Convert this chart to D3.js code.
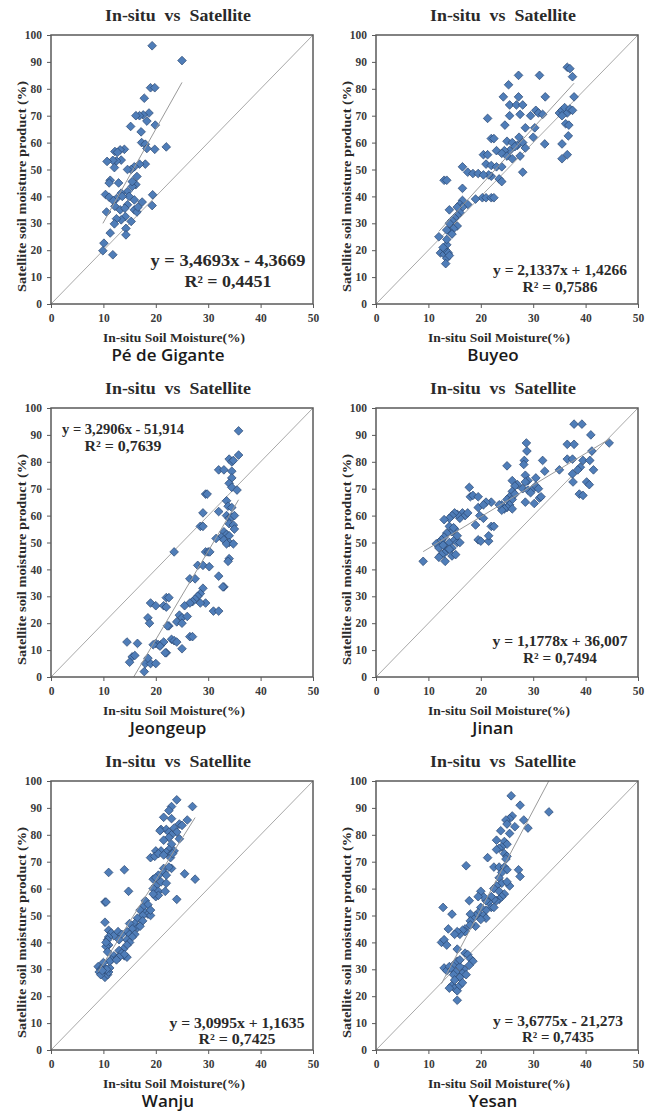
<!DOCTYPE html>
<html><head><meta charset="utf-8">
<script src="https://cdn.jsdelivr.net/npm/d3@7"></script>
<style>
body{margin:0;background:#fff;}
svg{display:block;}
</style></head>
<body>
<svg id="chart" width="654" height="1111"></svg>
<script>
// ---------------- DATA ----------------
const stations = ["Pé de Gigante","Buyeo","Jeongeup","Jinan","Wanju","Yesan"];
const slopes = [3.4693, 2.1337, 3.2906, 1.1778, 3.0995, 3.6775];
const intercepts = [-4.3669, 1.4266, -51.914, 36.007, 1.1635, -21.273];
const eqLabels = ["y = 3,4693x - 4,3669","y = 2,1337x + 1,4266","y = 3,2906x - 51,914","y = 1,1778x + 36,007","y = 3,0995x + 1,1635","y = 3,6775x - 21,273"];
const r2Labels = ["R² = 0,4451","R² = 0,7586","R² = 0,7639","R² = 0,7494","R² = 0,7425","R² = 0,7435"];
const xTicks = [0,10,20,30,40,50];
const yTicks = [0,10,20,30,40,50,60,70,80,90,100];

const pdgPoints = [[19.3,96],[25,90.5],[19,80.4],[19.8,80.4],[17.8,76.5],[18.7,71],[17.6,70.3],[16.9,70],[16.2,70],
[19.9,66.5],[15.2,66],[17.2,64],[18.3,68],[17.3,60],[18,59.4],[22,58.4],[19.8,57.5],[18.3,57.8],[14,57.5],[13.2,57.3],
[12.2,56.7],[12.7,56.4],[13.4,53.5],[12.5,53.2],[11.8,53.4],[10.7,53],[18,52],[16.9,52],[15.9,51],[15.3,50],[14.6,50],
[12.1,50.7],[11.3,46],[12.9,45],[11.1,45],[16.4,47.4],[16.2,44.4],[15.5,43.7],[14.6,41.8],[13.4,41.2],[12.5,39.2],
[10.4,40.7],[11.1,39.7],[11.9,38.4],[19.4,40.6],[17.4,37.9],[15.9,38.7],[14.6,36.9],[19.3,36.6],[10.6,34.2],[12.2,36.3],
[13.2,35],[14.1,35.6],[15.9,35],[16.4,34.2],[15.3,30.7],[14.2,32.5],[13.4,31.3],[12.5,31.7],[12.1,29.8],[14.3,28.1],
[14.3,25.7],[11.3,26.4],[10.1,22.6],[9.9,19.8],[11.8,18.3],[14.9,40],[13.6,40],[15.5,45.5],[16.6,36]];

const buyeoPoints = [[36.5,88],[37,87.5],[37.5,84.5],[27.2,85],[31.2,85],[25.3,81.5],[37.8,77],[32.3,77],[24.3,77],[27.2,77],
[25.5,74],[26.8,74],[28,74],[21.3,69],[24.6,66.5],[25.5,70],[27.5,70.5],[29.5,70],[30.5,72],[31,71],[31.8,70.5],[35,71],
[35.5,72],[36,73],[36.5,71],[37,72.5],[37.5,72],[35.5,70],[36.2,67],[36.8,66.5],[30.3,65.5],[28.5,65.5],[36.7,62.5],
[30,62],[27.3,62],[22,61.5],[22.5,61.5],[32.2,59.5],[35.5,59.5],[36.5,55.5],[35.5,54],[25,60.5],[26,60],[27,59],[28,60],
[28.5,58],[26.5,58.5],[25.5,57],[24.5,57],[23,57],[24,56],[25,55],[26,54],[27.5,55],[28,49],[20.5,55.5],[21.3,55.5],
[21,52],[22,51.5],[23,51],[24,51],[22,47.5],[21.5,48],[23.5,46.5],[24,45.5],[16.5,51],[17.5,49],[18.5,48.5],[19.5,48.5],
[20.5,48],[16.5,43],[20.3,39.5],[21,39.5],[22,39.5],[22.5,39.5],[19,39],[17.5,37],[16.5,38.5],[16,37],[16.5,36],[15.5,36],
[16,34],[15.5,33],[15,32],[14.5,31],[15.5,29],[14.8,28],[14,27],[14.5,26],[14,30],[13.5,27.5],[14,35],[13,46],[13.5,46],
[12,25],[12.3,19],[13,18.5],[13.3,20],[13.5,22],[13.5,17],[13.8,19],[14,18],[13.3,15],[12.8,21],[13.5,24]];

const jeongeupPoints = [[35.8,91.5],[35.8,82.5],[34,81],[34.5,80],[34.8,80.5],[32,77],[33,77],[34.5,76.5],[34.5,74],[34,72],
[34.5,70.5],[35.5,69.5],[29.5,68],[29.8,68],[33.5,65.5],[33.8,63.5],[34.5,63],[32,61.5],[29,61],[33.5,60],[34,59],
[34.5,59.5],[35,60],[34,57],[34.8,56.5],[35,55],[28.5,56],[29,56],[33,54],[33.5,53],[34,52.5],[32.5,52],[31.5,51.5],
[33,51],[34,50],[33.5,49.5],[34.8,49.5],[29.5,46.5],[30,46.5],[30.3,46.5],[23.5,46.5],[34,44],[33.8,43],[28,41.5],
[29,41.5],[30.2,41],[32,37.5],[26.5,36.5],[27.5,36.5],[33,33.5],[32.8,33.5],[29,33],[28.5,31],[28,30],[27.5,29],[27,28],
[26.5,27.5],[29.5,27.5],[28.5,27.5],[22,29.5],[22.5,29.5],[19,27.5],[20,26.5],[21.5,26.5],[22,26],[25.5,26.5],[31,24.5],
[32,24.5],[24.5,23],[25,22],[26,22.5],[24,20.5],[25,20],[22.5,19],[22.2,19],[18.5,22],[18.8,20],[23,14],[23.5,13.5],
[24,13],[26.5,15],[27,15],[25,10.5],[20,12.5],[20.5,12],[21,12],[21.5,13],[20.8,11.5],[19.5,12],[14.5,13],[16.5,12.5],
[15.5,7.5],[16,8],[15,5.5],[18,5],[19,5],[20,5],[18.5,7],[17.8,2],[22,9],[21.8,9]];

const jinanPoints = [[37.8,94],[39.3,94],[41,90],[44.5,87],[28.7,87],[36.5,86.5],[37.8,86.5],[28.8,84],[41.2,84],[36.5,81],
[37.5,81],[39.5,80.5],[40.8,80.5],[28.3,80.5],[31.8,80.5],[28.2,79],[25,78.5],[39,78],[38.5,77],[35,77],[41.5,77],
[32.2,76.5],[37.5,75.5],[28.5,75],[30.5,74],[40.2,72.5],[40.7,71.5],[37.6,72.5],[29,73],[28.5,72.5],[26,73],[27,71.5],
[26.5,71],[28,70],[29,69.5],[30,70],[30.5,71],[31,70],[29.5,68.5],[31.2,66.5],[31.5,67],[28.5,65],[30.2,64.5],[38.8,68],
[39.5,67.5],[26,69],[25.5,67],[25,66],[26,66],[26.5,68],[25.5,64],[25,63],[24,64],[24.5,62.5],[24,62],[23.5,64],[26,62.5],
[22,65],[21,65],[17.8,70.5],[18,67],[18.5,67.5],[19.5,67],[19.5,63],[20.5,64],[19.8,60],[20.5,59],[19,56.5],[22,56],
[22.5,56],[19.5,51],[20,50.5],[21.5,50.5],[21.5,52.5],[16.5,61],[17,60],[17.5,61],[16,59],[15.5,60.5],[15,61],[14.5,60],
[14,59],[13,58.5],[14,56],[15,55],[14.5,54],[13.5,53.5],[13,52],[12.5,51],[12,50],[11.5,49.5],[12,48],[13,49],[14,50],
[15,51],[15.5,50],[14.5,48],[13.5,47],[13,46],[12.5,45.5],[12,44.5],[13.2,43],[14.5,45],[15.2,45.5],[14,47.5],[9,43],
[15.5,52.5],[16,50],[12.8,49],[14.8,55.5]];

const wanjuPoints = [[24,93],[23,90.5],[27,90.5],[22.5,89],[21.5,86.5],[23,86],[26,85.5],[24.5,84],[25,83.5],[23.5,82.5],
[21,82],[22,82],[20.8,81.5],[22.5,81],[24,81],[23,80],[22.5,79],[24.5,78.5],[21.5,78],[23,76.5],[22.5,74.5],[20,74],
[21,74],[22,73.5],[23,73],[23.5,74],[19,71.5],[19.8,72],[20.5,73],[21.5,72.5],[22.8,71.5],[23.2,73],[21.5,67.5],
[23,67.5],[14,67],[11,66],[25.5,65.5],[27.5,63.5],[22.5,68],[21.5,66],[22,65],[20.5,65],[19.5,63.5],[20,64],[21,62.5],
[22,62],[20,61],[19.5,60],[20.5,59],[21.8,59],[14.8,59],[20,57],[20.5,57.5],[24,56],[19.5,58],[10.3,55],[10.5,55],
[18,55.5],[18.5,54],[17.5,53],[17,52],[18,51],[18.5,50.5],[19,50],[19,52],[17.5,50],[16.5,49],[17.5,48],[16,47],[15,47],
[16.5,45.5],[15.5,45],[14.5,44],[15,43],[16,43],[17,46],[15.5,42],[14.5,41],[15,40],[14.5,39],[13.8,37.5],[13,37],
[13.5,36],[14,35],[14.5,34.5],[12,35],[12.5,34],[11.5,33.5],[11,44.5],[11.5,43.5],[12,42.5],[12.8,44],[13.5,43],[11,42],
[10.8,41],[11,39],[10.5,38.5],[10.3,47.5],[10.5,40],[10.8,36.5],[9,31],[9.5,30],[10,31],[9.2,29],[10,28.5],[10.3,27],
[10.8,28],[9.5,28],[11,29],[11.2,30.5],[10.6,30],[9.8,29.5],[11.2,33],[10,32.5],[13,41],[14,35.5],[13,34.5],[12.5,33.5]];

const yesanPoints = [[25.8,94.5],[27.5,91],[33,88.5],[26,87],[25.5,86],[28.2,85.5],[24.8,85.5],[25,84],[26.5,83],[29,82.5],
[23.8,81.5],[25.5,80.5],[23,78],[24.5,77.5],[25,76.5],[24,75.5],[23.5,75],[23,74.5],[24.5,73],[25,72],[24.8,71],
[21.3,71.5],[22.5,68],[23.5,68],[24.5,68],[25,67],[27.2,67],[27.5,64.5],[17.2,68.5],[24,66],[23.5,64],[24,62],[25.5,61],
[25,62.5],[23,61],[22.5,60],[23.5,59],[24.5,58],[24,57],[23.5,56],[23,55.5],[22.5,56],[22,57],[21.5,55],[21,55.5],
[20.5,57],[20,59],[19.5,57],[22,53],[22.5,53],[21,52],[20,53],[19.5,51],[20.5,50],[21,49],[20,48.5],[19,50],[18.5,49],
[18,50.5],[18,48],[17.8,55.5],[19,46],[18,46.5],[17,45],[17,44],[16.5,44.5],[16,43],[15.5,44],[15,43],[12.8,53],
[14.5,50.5],[13.8,45],[12.5,40],[13,41],[13.5,39],[15.5,37.5],[17,36],[17.5,35.5],[18,34],[18.5,33],[17.8,31.5],
[16.8,30],[16.5,28.5],[17.2,28],[13,30.5],[13.5,29.5],[14,31],[14.5,30],[15,32],[15.5,33],[16,31],[15.2,29],[14.8,28],
[16,27],[14.5,24],[15,23],[15.5,22],[16,24],[16.5,25],[15.5,18.5],[14,23],[15,26],[16,33.5]];

const pointSets = [pdgPoints, buyeoPoints, jeongeupPoints, jinanPoints, wanjuPoints, yesanPoints];

// ---------------- LAYOUT ----------------
const colX = [51, 376];
const rowY = [35, 408, 781];
const plotW = 262, plotH = 269;
// equation label placement: [centerX, line1 y, line2 y, fontSize, eq width, r2 width]
const eqPlace = [[177,227,248,16,155,87],[184,237,254,14,134,75],[72,23,40,14,122,77],[184,235,252,14,135,74],[186,244,260,14,135,77],[182,242,258,14,130,72]];

const svg = d3.select("#chart");
const serif = "'Liberation Serif','Times New Roman',serif";

stations.forEach((name, i) => {
  const col = i % 2, row = Math.floor(i / 2);
  const x0 = colX[col], y0 = rowY[row];
  const g = svg.append("g").attr("transform", `translate(${x0},${y0})`);
  const x = d3.scaleLinear().domain([0, 50]).range([0, plotW]);
  const y = d3.scaleLinear().domain([0, 100]).range([plotH, 0]);

  g.append("defs").append("clipPath").attr("id", "clip" + i)
    .append("rect").attr("width", plotW).attr("height", plotH);

  // 1:1 line
  g.append("line")
    .attr("x1", x(0)).attr("y1", y(0)).attr("x2", x(50)).attr("y2", y(100))
    .attr("stroke", "#a8a8a8").attr("stroke-width", 1);

  // points
  const diamond = d3.symbol().type(d3.symbolDiamond2).size(48);
  g.append("g").selectAll("path").data(pointSets[i]).join("path")
    .attr("d", diamond)
    .attr("transform", d => `translate(${x(d[0])},${y(d[1])})`)
    .attr("fill", "#4f7db8").attr("stroke", "#2a4670").attr("stroke-width", 0.7);

  // trend line
  const xs = pointSets[i].map(d => d[0]);
  const xmin = d3.min(xs), xmax = d3.max(xs);
  g.append("line").attr("clip-path", `url(#clip${i})`)
    .attr("x1", x(xmin)).attr("y1", y(slopes[i] * xmin + intercepts[i]))
    .attr("x2", x(xmax)).attr("y2", y(slopes[i] * xmax + intercepts[i]))
    .attr("stroke", "#9a9a9a").attr("stroke-width", 1);

  // frame
  g.append("rect").attr("width", plotW).attr("height", plotH)
    .attr("fill", "none").attr("stroke", "#5a5a5a").attr("stroke-width", 1.5);

  // axes
  const xAxis = g.append("g").attr("transform", `translate(0,${plotH})`)
    .call(d3.axisBottom(x).tickValues(xTicks).tickSize(4).tickPadding(6));
  const yAxis = g.append("g")
    .call(d3.axisLeft(y).tickValues(yTicks).tickSize(4).tickPadding(5));
  [xAxis, yAxis].forEach(a => {
    a.select(".domain").remove();
    a.selectAll(".tick line").attr("stroke", "#5a5a5a");
    a.selectAll(".tick text").attr("fill", "#3a3a3a")
      .style("font-family", serif).style("font-weight", "bold").style("font-size", "11.5px");
  });

  const txt = (sel) => sel.attr("fill", "#2a2a2a").style("font-family", serif).style("font-weight", "bold");

  // title
  txt(g.append("text")).attr("x", plotW / 2 - 4).attr("y", -14)
    .attr("text-anchor", "middle").style("font-size", "16px")
    .attr("textLength", 146).attr("lengthAdjust", "spacingAndGlyphs")
    .style("white-space", "pre").text("In-situ  vs  Satellite");

  // x-axis title
  txt(g.append("text")).attr("x", plotW / 2 - 8).attr("y", plotH + 38)
    .attr("text-anchor", "middle").style("font-size", "13px")
    .attr("textLength", 142).attr("lengthAdjust", "spacingAndGlyphs")
    .text("In-situ Soil Moisture(%)");

  // y-axis title
  txt(g.append("text"))
    .attr("transform", `translate(${-25},${plotH / 2 + 17}) rotate(-90)`)
    .attr("text-anchor", "middle").style("font-size", "13px")
    .attr("textLength", 211).attr("lengthAdjust", "spacingAndGlyphs")
    .text("Satellite soil moisture product (%)");

  // station name
  g.append("text").attr("x", plotW / 2 - 14).attr("y", plotH + 57)
    .attr("text-anchor", "middle").attr("fill", "#1a1a1a")
    .style("font-family", "'Open Sans',sans-serif").style("font-weight", "600").style("font-size", "17px")
    .text(name);

  // equation
  const ep = eqPlace[i];
  txt(g.append("text")).attr("x", ep[0]).attr("y", ep[1])
    .attr("text-anchor", "middle").attr("dominant-baseline", "middle")
    .style("font-size", ep[3] + "px")
    .attr("textLength", ep[4]).attr("lengthAdjust", "spacingAndGlyphs")
    .text(eqLabels[i]);
  txt(g.append("text")).attr("x", ep[0]).attr("y", ep[2])
    .attr("text-anchor", "middle").attr("dominant-baseline", "middle")
    .style("font-size", ep[3] + "px")
    .attr("textLength", ep[5]).attr("lengthAdjust", "spacingAndGlyphs")
    .text(r2Labels[i]);
});
</script>
</body></html>
